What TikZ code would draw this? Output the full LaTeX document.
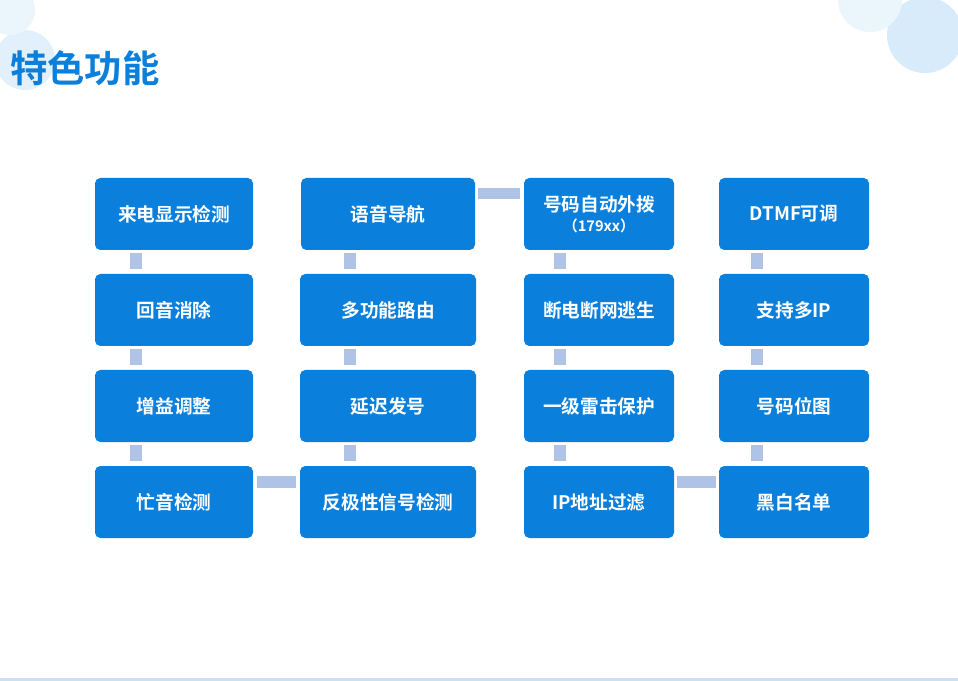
\documentclass[tikz,border=0pt]{standalone}
\usepackage{fontspec}
\newfontfamily\cjk{Noto Sans CJK SC}[BoldFont={* Bold}]
\definecolor{boxblue}{RGB}{10,127,220}
\definecolor{connblue}{RGB}{174,195,230}
\definecolor{bub1}{RGB}{225,240,250}
\definecolor{bub2}{RGB}{235,245,252}
\definecolor{bub3}{RGB}{215,235,250}
\definecolor{lineb}{RGB}{200,225,245}
\begin{document}
\begin{tikzpicture}[x=0.75pt,y=-0.75pt,
 fbox/.style={fill=boxblue,rounded corners=4pt,text=white,font=\cjk\bfseries\fontsize{14}{17}\selectfont,align=center,inner sep=0pt},
 conn/.style={fill=connblue}]
\useasboundingbox (0,0) rectangle (958,681);
\fill[white] (0,0) rectangle (958,681);
\fill[bub1] (25,60) circle (30);
\fill[bub2] (10,10) circle (25);
\fill[bub3] (925,35) circle (38);
\fill[bub2] (870,0) circle (32);
\fill[lineb] (0,678) rectangle (958,681);
\node[anchor=west,text=boxblue,font=\cjk\bfseries\fontsize{28}{32}\selectfont,inner sep=0pt] (title) at (10,68) {特色功能};
\foreach \cx in {136,350,560,757}{
  \foreach \ya in {250,346,442}{
    \fill[conn] (\cx-6,\ya+3) rectangle (\cx+6,\ya+19);
  }
}
\fill[conn] (257,476) rectangle (296,488);
\fill[conn] (478,188) rectangle (520,199);
\fill[conn] (677,476) rectangle (716,488);
\foreach \n/\x/\y/\w/\t in {
 a1/174/214/158/来电显示检测, a2/174/310/158/回音消除, a3/174/406/158/增益调整, a4/174/502/158/忙音检测,
 b1/388/214/174/语音导航, b2/388/310/176/多功能路由, b3/388/406/176/延迟发号, b4/388/502/176/反极性信号检测,
 c2/599/310/150/断电断网逃生, c3/599/406/150/一级雷击保护, c4/599/502/150/IP地址过滤,
 d1/794/214/150/DTMF可调, d2/794/310/150/支持多IP, d3/794/406/150/号码位图, d4/794/502/150/黑白名单}{
 \node[fbox,minimum width=\w*0.75pt,minimum height=72*0.75pt] (\n) at (\x,\y) {\t};
}
\node[fbox,minimum width=150*0.75pt,minimum height=72*0.75pt] (c1) at (599,214) {号码自动外拨\\[-2pt]{\fontsize{11}{14}\selectfont（179xx）}};
\end{tikzpicture}
\end{document}
